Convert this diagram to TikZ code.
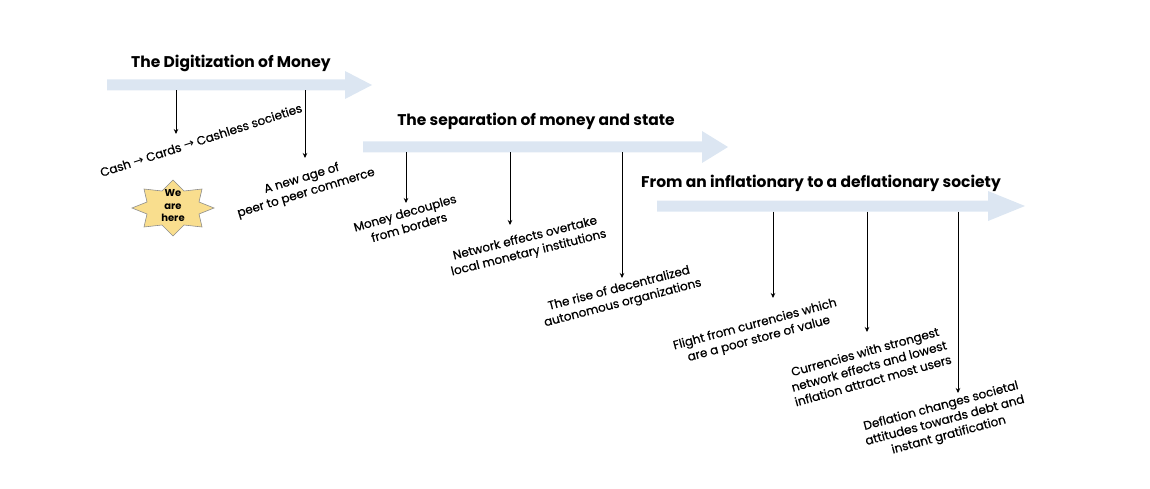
\documentclass[tikz,border=0pt]{standalone}
\usepackage{fontspec}
\setmainfont{Poppins}
\newfontfamily\lblfont[FakeBold=0.6]{Poppins}
\newfontfamily\symfont{DejaVu Sans}
\usetikzlibrary{arrows.meta}
\definecolor{barblue}{HTML}{DCE6F2}
\definecolor{staryellow}{HTML}{F9DE8E}
\definecolor{stargray}{HTML}{8C8C8C}
\newcommand{\rarr}{{\symfont\fontsize{12.5}{13}\selectfont →}}
\tikzset{
  title/.style={font=\fontsize{15.5}{18}\selectfont\bfseries, inner sep=0pt},
  lbl/.style={font=\lblfont\fontsize{12}{15}\selectfont, align=center, inner sep=0pt},
  conn/.style={draw=black, line width=0.7pt, -{Stealth[length=5pt,width=4.5pt]}},
  bar/.style={fill=barblue, draw=none}
}
\begin{document}
\begin{tikzpicture}[x=1pt,y=-1pt]
\useasboundingbox (0,0) rectangle (1150,489);
% big arrows
\fill[barblue] (107,79.5) -- (345,79.5) -- (345,71) -- (372,85) -- (345,99) -- (345,90.5) -- (107,90.5) -- cycle;
\fill[barblue] (363,141.5) -- (702,141.5) -- (702,131) -- (728,147) -- (702,163) -- (702,152.5) -- (363,152.5) -- cycle;
\fill[barblue] (657,200.5) -- (988,200.5) -- (988,191) -- (1025,206) -- (988,221) -- (988,211.5) -- (657,211.5) -- cycle;
% titles
\node[title] (t1) at (231,63) {The Digitization of Money};
\node[title] (t2) at (536,121) {The separation of money and state};
\node[title] (t3) at (821,183) {From an inflationary to a deflationary society};
% connector start/end coordinates
\coordinate (s1) at (176,90.5); \coordinate (e1) at (176,134);
\coordinate (s2) at (305,90.5); \coordinate (e2) at (305,158);
\coordinate (s3) at (406,152.5); \coordinate (e3) at (406,203);
\coordinate (s4) at (510,152.5); \coordinate (e4) at (510,225);
\coordinate (s5) at (622,152.5); \coordinate (e5) at (622,278);
\coordinate (s6) at (773,211.5); \coordinate (e6) at (773,298);
\coordinate (s7) at (867,211.5); \coordinate (e7) at (867,332);
\coordinate (s8) at (958,211.5); \coordinate (e8) at (958,393);
\foreach \i in {1,...,8} {\draw[conn] (s\i) -- (e\i);}
% labels
\node[lbl, rotate=18] (l1) at (201,140) {Cash \rarr{} Cards \rarr{} Cashless societies};
\node[lbl, rotate=17] (l2) at (304,186) {A new age of\\peer to peer commerce};
\node[lbl, rotate=16] (l3) at (407,220) {Money decouples\\from borders};
\node[lbl, rotate=14] (l4) at (527,246) {Network effects overtake\\local monetary institutions};
\node[lbl, rotate=14.5] (l5) at (621,296) {The rise of decentralized\\autonomous organizations};
\node[lbl, rotate=15] (l6) at (757,332) {Flight from currencies which\\are a poor store of value};
\node[lbl, rotate=15.5] (l7) at (869,366) {Currencies with strongest\\network effects and lowest\\inflation attract most users};
\node[lbl, rotate=15] (l8) at (945,421) {Deflation changes societal\\attitudes towards debt and\\instant gratification};
% star
\filldraw[fill=staryellow, draw=stargray, line width=0.6pt]
  (214,208) -- (199,214) -- (202,227) -- (184,225) -- (173,236) -- (162,225) -- (144,227) -- (147,214)
  -- (132,208) -- (147,202) -- (144,189) -- (162,191) -- (173,180) -- (184,191) -- (202,189) -- (199,202) -- cycle;
\node[font=\fontsize{10}{12.5}\selectfont\bfseries, align=center, inner sep=0pt] (star) at (173,206) {We\\are\\here};
\end{tikzpicture}
\end{document}
